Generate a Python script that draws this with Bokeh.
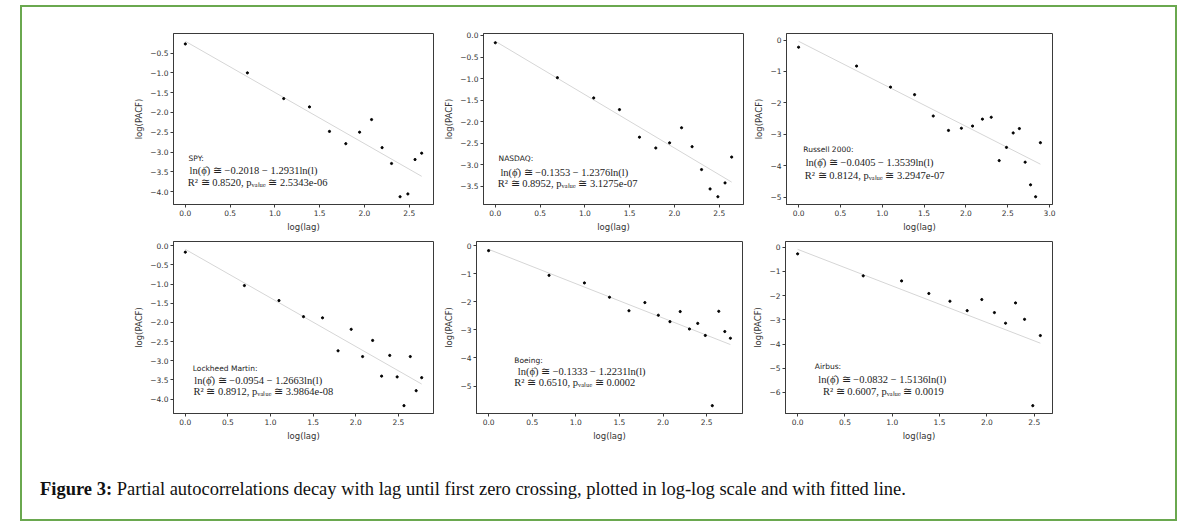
import numpy as np
from bokeh.plotting import figure
from bokeh.models import Range1d, FixedTicker, Label, Div
from bokeh.layouts import row, column
from bokeh.embed import file_html
from bokeh.resources import INLINE

# ---------------- data ----------------
names = ["SPY", "NASDAQ", "Russell 2000", "Lockheed Martin", "Boeing", "Airbus"]

lags_spy = list(range(1, 15))
lags_nasdaq = list(range(1, 15))
lags_russell = list(range(1, 19))
lags_lockheed = list(range(1, 17))
lags_boeing = list(range(1, 17))
lags_airbus = list(range(1, 14))

pacf_spy = [-0.27, -1.00, -1.65, -1.86, -2.48, -2.79, -2.50, -2.18, -2.89, -3.29, -4.13, -4.06, -3.19, -3.03]
pacf_nasdaq = [-0.17, -0.98, -1.45, -1.72, -2.36, -2.61, -2.49, -2.14, -2.58, -3.11, -3.56, -3.74, -3.42, -2.82]
pacf_russell = [-0.23, -0.83, -1.50, -1.74, -2.42, -2.88, -2.81, -2.74, -2.52, -2.46, -3.84, -3.42, -2.96, -2.82,
                -3.89, -4.61, -4.99, -3.27]
pacf_lockheed = [-0.17, -1.04, -1.43, -1.85, -1.88, -2.74, -2.18, -2.89, -2.47, -3.40, -2.86, -3.42, -4.17, -2.89,
                 -3.78, -3.44]
pacf_boeing = [-0.18, -1.06, -1.33, -1.84, -2.32, -2.03, -2.48, -2.71, -2.35, -2.97, -2.77, -3.20, -5.70, -2.34,
               -3.06, -3.30]
pacf_airbus = [-0.27, -1.18, -1.39, -1.91, -2.23, -2.62, -2.16, -2.70, -3.14, -2.30, -2.98, -6.55, -3.65]

fit_intercept = [-0.2018, -0.1353, -0.0405, -0.0954, -0.1333, -0.0832]
fit_slope = [-1.2931, -1.2376, -1.3539, -1.2663, -1.2231, -1.5136]
r_squared = ["0.8520", "0.8952", "0.8124", "0.8912", "0.6510", "0.6007"]
p_values = ["2.5343e-06", "3.1275e-07", "3.2947e-07", "3.9864e-08", "0.0002", "0.0019"]

xticks_a = [0.0, 0.5, 1.0, 1.5, 2.0, 2.5]
xticks_b = [0.0, 0.5, 1.0, 1.5, 2.0, 2.5, 3.0]
yticks_spy = [-4.0, -3.5, -3.0, -2.5, -2.0, -1.5, -1.0, -0.5]
yticks_nasdaq = [-3.5, -3.0, -2.5, -2.0, -1.5, -1.0, -0.5, 0.0]
yticks_russell = [-5, -4, -3, -2, -1, 0]
yticks_lockheed = [-4.0, -3.5, -3.0, -2.5, -2.0, -1.5, -1.0, -0.5, 0.0]
yticks_boeing = [-5, -4, -3, -2, -1, 0]
yticks_airbus = [-6, -5, -4, -3, -2, -1, 0]

caption_bold = "Figure 3:"
caption_text = ("Partial autocorrelations decay with lag until first zero crossing, "
                "plotted in log-log scale and with fitted line.")

all_lags = [lags_spy, lags_nasdaq, lags_russell, lags_lockheed, lags_boeing, lags_airbus]
all_pacf = [pacf_spy, pacf_nasdaq, pacf_russell, pacf_lockheed, pacf_boeing, pacf_airbus]
all_xticks = [xticks_a, xticks_a, xticks_b, xticks_a, xticks_a, xticks_a]
all_yticks = [yticks_spy, yticks_nasdaq, yticks_russell, yticks_lockheed, yticks_boeing, yticks_airbus]
ytick_dec = [1, 1, 0, 1, 0, 0]

# ---------------- layout / style ----------------
# (min_border_left, frame_width, min_border_right)
hsizes = [(151, 260, 5), (45, 260, 5), (38, 266, 113),
          (151, 260, 5), (38, 266, 5), (38, 267, 113)]
vsizes = [(26, 171, 32)] * 3 + [(5, 172, 32)] * 3
# annotation placement (axes fractions): header, eq1, eq2 -> (fx, fy)
annot_pos = [
    [(0.058, 0.27), (0.062, 0.20), (0.055, 0.13)],
    [(0.058, 0.27), (0.065, 0.19), (0.055, 0.12)],
    [(0.063, 0.32), (0.072, 0.245), (0.069, 0.17)],
    [(0.074, 0.26), (0.080, 0.19), (0.077, 0.13)],
    [(0.142, 0.31), (0.155, 0.245), (0.142, 0.18)],
    [(0.110, 0.275), (0.123, 0.20), (0.140, 0.13)],
]

SPINE = "#3a3a3a"
TICKTXT = "#333333"
SANS = "DejaVu Sans"
SERIF = "Liberation Serif"


def fmt(v, dec):
    s = f"{abs(v):.{dec}f}"
    return ("\u2212" + s) if v < 0 else s


figs = []
for i in range(6):
    lags = np.array(all_lags[i], dtype=float)
    xs = np.log(lags)
    ys = np.array(all_pacf[i])
    b, m = fit_intercept[i], fit_slope[i]
    xmax = xs.max()
    xfit = np.array([0.0, xmax])
    yfit = b + m * xfit

    x0, x1 = -0.05 * xmax, 1.05 * xmax
    allv = np.concatenate([ys, yfit])
    lo, hi = allv.min(), allv.max()
    pad = 0.05 * (hi - lo)
    y0, y1 = lo - pad, hi + pad

    L, FW, R = hsizes[i]
    T, FH, B = vsizes[i]
    p = figure(frame_width=FW, frame_height=FH, min_border_left=L, min_border_right=R,
               min_border_top=T, min_border_bottom=B, x_range=Range1d(x0, x1),
               y_range=Range1d(y0, y1), output_backend="svg", toolbar_location=None,
               title=None)
    p.grid.visible = False
    p.outline_line_color = SPINE
    p.outline_line_width = 1
    p.background_fill_color = "white"
    p.border_fill_color = "white"

    p.line(xfit, yfit, line_color="#d6d6d6", line_width=1)
    p.scatter(xs, ys, size=2.2, color="black")

    xt = all_xticks[i]
    yt = all_yticks[i]
    p.xaxis.ticker = FixedTicker(ticks=xt)
    p.yaxis.ticker = FixedTicker(ticks=yt)
    p.xaxis.major_label_overrides = {t: f"{t:.1f}" for t in xt}
    p.yaxis.major_label_overrides = {t: fmt(t, ytick_dec[i]) for t in yt}
    p.xaxis.axis_label = "log(lag)"
    p.yaxis.axis_label = "log(PACF)"
    for ax in (p.xaxis, p.yaxis):
        ax.axis_line_color = SPINE
        ax.major_tick_line_color = SPINE
        ax.major_tick_out = 3
        ax.major_tick_in = 0
        ax.minor_tick_line_color = None
        ax.major_label_text_font = SANS
        ax.major_label_text_font_size = "7.5px"
        ax.major_label_text_color = TICKTXT
        ax.major_label_standoff = 2
        ax.axis_label_text_font = SANS
        ax.axis_label_text_font_size = "8.5px"
        ax.axis_label_text_font_style = "normal"
        ax.axis_label_text_color = TICKTXT
        ax.axis_label_standoff = 3

    eq1 = f"ln(\u03d5\u0302) \u2245 \u2212{abs(b):.4f} \u2212 {abs(m):.4f}ln(l)"
    eq2 = f"R\u00b2 \u2245 {r_squared[i]}, p\u1d65\u2090\u2097\u1d64\u2091 \u2245 {p_values[i]}"
    texts = [(names[i] + ":", SANS, "7.5px"), (eq1, SERIF, "10.5px"), (eq2, SERIF, "10.5px")]
    for (txt, font, fs), (fx, fy) in zip(texts, annot_pos[i]):
        p.add_layout(Label(x=x0 + fx * (x1 - x0), y=y0 + fy * (y1 - y0), text=txt,
                           text_font=font, text_font_size=fs, text_color="#222222",
                           text_baseline="middle", text_align="left"))
    figs.append(p)

caption = Div(width=1143, height=64,
              text=(f'<div style="padding:26px 0 0 13px;font-family:\'Liberation Serif\',serif;'
                    f'font-size:18.5px;color:#111;white-space:nowrap;">'
                    f'<b>{caption_bold}</b> {caption_text}</div>'))

root = column(row(figs[0], figs[1], figs[2], spacing=0),
              row(figs[3], figs[4], figs[5], spacing=0),
              caption, spacing=0,
              styles={"position": "absolute", "left": "20px", "top": "5px",
                      "border": "2px solid #6aa84f", "background": "white"})

open("out.html", "w").write(file_html(root, INLINE))
